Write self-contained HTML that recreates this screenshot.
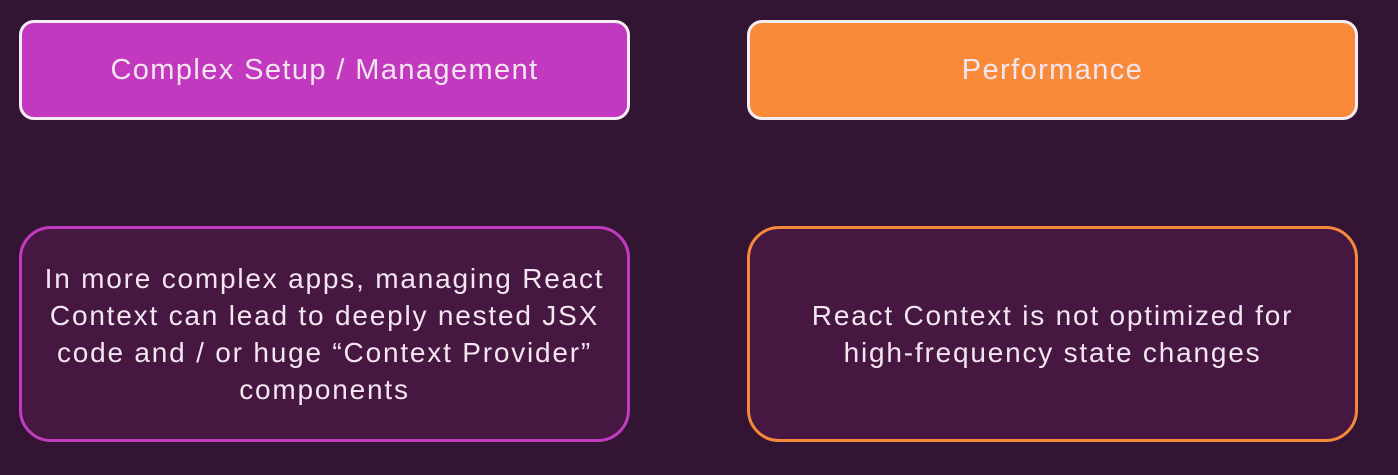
<!DOCTYPE html>
<html><head><style>
html,body{margin:0;padding:0;}
body{width:1398px;height:475px;background:#331432;position:relative;overflow:hidden;font-family:"Liberation Sans","DejaVu Sans",sans-serif;color:#f3e6f0;}
.b{position:absolute;box-sizing:border-box;display:flex;align-items:center;justify-content:center;text-align:center;}
.t{top:20px;height:100px;width:611px;border:3px solid #f4eef4;border-radius:15px;font-size:29px;letter-spacing:1.4px;}
.d{top:226px;height:216px;width:611px;border:3px solid;border-radius:32px;background:#461741;font-size:28px;letter-spacing:1.8px;line-height:37px;white-space:nowrap;}
</style></head><body>
<div class="b t" style="left:19px;background:#c238bf;">Complex Setup / Management</div>
<div class="b t" style="left:747px;background:#f98a3a;">Performance</div>
<div class="b d" style="left:19px;border-color:#c13cbd;">In more complex apps, managing React<br>Context can lead to deeply nested JSX<br>code and / or huge “Context Provider”<br>components</div>
<div class="b d" style="left:747px;border-color:#f4893c;">React Context is not optimized for<br>high-frequency state changes</div>
</body></html>
